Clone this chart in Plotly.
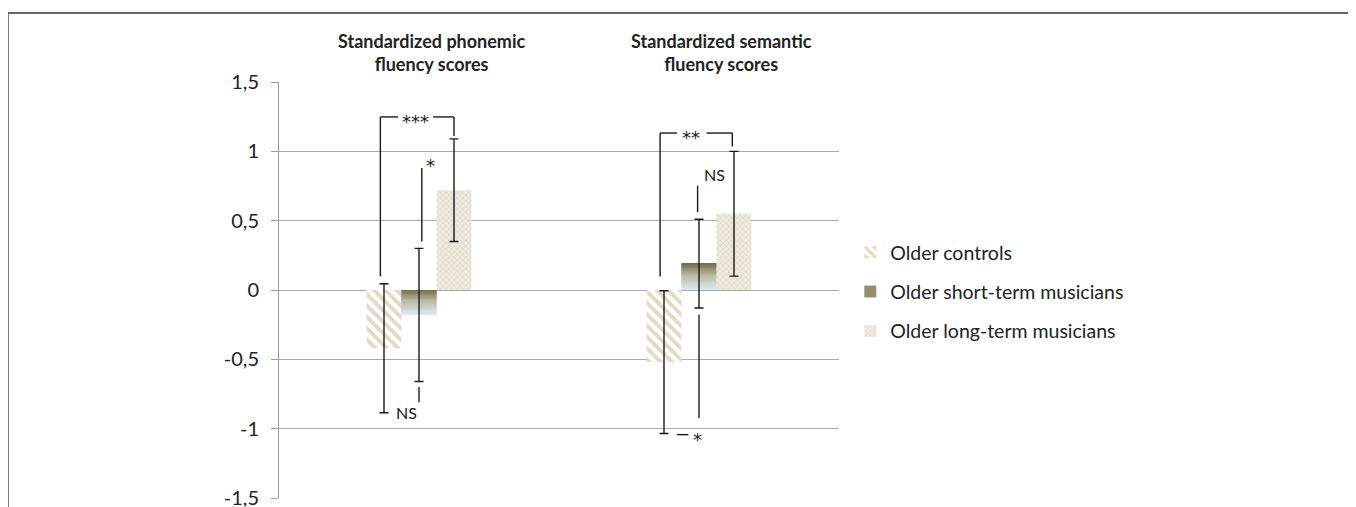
import plotly.graph_objects as go

# ---- data ----
categories = ["phonemic", "semantic"]
panel_titles = ["<b>Standardized phonemic<br>fluency scores</b>",
                "<b>Standardized semantic<br>fluency scores</b>"]
series_names = ["Older controls", "Older short-term musicians", "Older long-term musicians"]
controls = [-0.42, -0.52]
controls_err = [0.465, 0.515]
short_term = [-0.18, 0.19]
short_term_err = [0.48, 0.32]
long_term = [0.72, 0.55]
long_term_err = [0.37, 0.45]
tick_vals = [-1.5, -1, -0.5, 0, 0.5, 1, 1.5]
tick_text = ["-1,5", "-1", "-0,5", "0", "0,5", "1", "1,5"]

FONT = "Lato"
W, H = 1356, 507
OFF = 8  # page body margin
# plot area in page pixels
L, R, T, B = 279, 838.7, 82, 498

def px2paper_x(px):
    return (px - L) / (R - L)

def px2paper_y(py):
    return (B - py) / (B - T)

fig = go.Figure()

err_style = dict(type="data", visible=True, color="#1a1a1a", thickness=1.4, width=4.5)

# controls: diagonal hatch
fig.add_trace(go.Bar(
    x=categories, y=controls, name=series_names[0], offsetgroup="c",
    legendgroup="c",
    marker=dict(color="white", line=dict(width=0),
                pattern=dict(shape="\\", fgcolor="#bfb88e", bgcolor="white",
                             size=8, solidity=0.5)),
    error_y=dict(array=controls_err, **err_style),
))

# short-term: vertical gradient (dark olive top -> pale blue bottom)
N = 30
stops = [(0.0, (112, 105, 68)), (0.45, (186, 184, 163)), (1.0, (222, 232, 244))]

def grad(t):
    for (t0, c0), (t1, c1) in zip(stops[:-1], stops[1:]):
        if t <= t1:
            f = (t - t0) / (t1 - t0)
            return "rgb(%d,%d,%d)" % tuple(round(a + (b - a) * f) for a, b in zip(c0, c1))
    return "rgb(%d,%d,%d)" % stops[-1][1]

for i in range(N):
    bases, heights = [], []
    for v in short_term:
        top, bot = max(v, 0), min(v, 0)
        span = top - bot
        seg_top = top - span * i / N
        seg_bot = top - span * (i + 1) / N
        bases.append(seg_bot)
        heights.append(seg_top - seg_bot)
    fig.add_trace(go.Bar(
        x=categories, y=heights, base=bases, offsetgroup="s",
        legendgroup="s", name=series_names[1], showlegend=(i == 6),
        marker=dict(color=grad((i + 0.5) / N), line=dict(width=0)),
        hoverinfo="skip",
    ))

fig.add_trace(go.Bar(
    x=categories, y=short_term, offsetgroup="s", showlegend=False,
    legendgroup="s", name=series_names[1],
    marker=dict(color="rgba(0,0,0,0)", line=dict(width=0)),
    error_y=dict(array=short_term_err, **err_style),
))

# long-term: fine cross-hatch
fig.add_trace(go.Bar(
    x=categories, y=long_term, name=series_names[2], offsetgroup="l",
    legendgroup="l",
    marker=dict(color="#ebe7da", line=dict(width=0),
                pattern=dict(shape="x", fgcolor="#cdc6ac", bgcolor="#eeeadf",
                             size=4, solidity=0.35)),
    error_y=dict(array=long_term_err, **err_style),
))

# ---- significance brackets ----
lc = dict(color="#1a1a1a", width=1.4)
segs = [
    # group 1 ***
    (-0.138, 0.098, -0.138, 1.248), (-0.138, 1.248, -0.075, 1.248),
    (0.05, 1.248, 0.125, 1.248), (0.125, 1.248, 0.125, 1.11),
    # group 1 *
    (0.01, 0.88, 0.01, 0.35),
    # group 1 NS
    (0.0, -0.70, 0.0, -0.81),
    # group 2 **
    (0.861, 0.098, 0.861, 1.132), (0.861, 1.132, 0.922, 1.132),
    (1.027, 1.132, 1.119, 1.132), (1.119, 1.132, 1.119, 1.035),
    # group 2 NS
    (0.995, 0.752, 0.995, 0.561),
    # group 2 *
    (1.0, -0.178, 1.0, -0.923), (0.922, -1.043, 0.962, -1.043),
]
for x0, y0, x1, y1 in segs:
    fig.add_shape(type="line", xref="x", yref="y", x0=x0, y0=y0, x1=x1, y1=y1, line=lc)

sig = [(-0.012, 1.215, "***"), (0.042, 0.90, "*"), (-0.046, -0.885, "NS"),
       (0.972, 1.10, "**"), (1.057, 0.83, "NS"), (0.995, -1.075, "*")]
for x, y, t in sig:
    fnt = dict(family=FONT, size=16, color="#1a1a1a") if t == "NS" else \
        dict(family="DejaVu Sans", size=18, color="#1a1a1a")
    fig.add_annotation(x=x, y=y, xref="x", yref="y", text=t, showarrow=False,
                       xanchor="center", yanchor="middle", font=fnt)

# panel titles
for xp, t in zip([431.7, 721.7], panel_titles):
    fig.add_annotation(x=px2paper_x(xp), y=px2paper_y(53), xref="paper", yref="paper",
                       text=t, showarrow=False, xanchor="center", yanchor="middle",
                       font=dict(family=FONT, size=18, color="#222"))

# frame
fig.add_shape(type="rect", xref="paper", yref="paper",
              x0=px2paper_x(8), x1=px2paper_x(1352.5), y0=px2paper_y(540), y1=px2paper_y(13),
              line=dict(color="#666", width=2), layer="below")

fig.update_layout(
    width=W, height=H,
    margin=dict(l=L - OFF, r=W - (R - OFF), t=T - OFF, b=H - (B - OFF), autoexpand=False),
    paper_bgcolor="white", plot_bgcolor="white",
    barmode="group", bargap=0.625, bargroupgap=0,
    separators=",.",
    font=dict(family=FONT, color="#222"),
    showlegend=True,
    legend=dict(x=px2paper_x(850), y=px2paper_y(233), xanchor="left", yanchor="top",
                font=dict(family=FONT, size=19.5, color="#222"),
                traceorder="grouped", tracegroupgap=11, itemclick=False,
                bgcolor="rgba(0,0,0,0)"),
    xaxis=dict(showticklabels=False, showgrid=False, showline=False, zeroline=False,
               ticks="", range=[-0.5, 1.5], automargin=False),
    yaxis=dict(range=[-1.5, 1.5], tickvals=tick_vals, ticktext=tick_text,
               automargin=False, ticklabelstandoff=8,
               showgrid=True, gridcolor="#a8a8a8", gridwidth=1,
               zeroline=True, zerolinecolor="#a8a8a8", zerolinewidth=1,
               showline=True, linecolor="#9a9a9a", linewidth=1,
               ticks="outside", ticklen=7, tickcolor="#9a9a9a",
               tickfont=dict(family=FONT, size=20, color="#222")),
)

fig.write_html("out.html")
